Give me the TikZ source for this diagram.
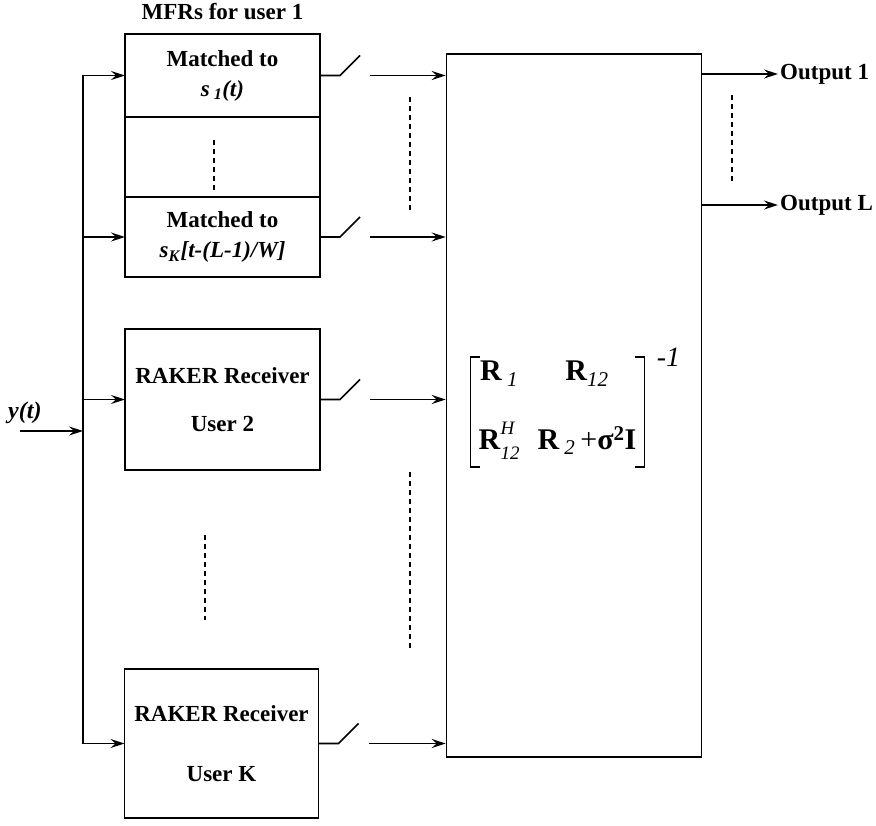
\documentclass[tikz,border=0pt]{standalone}
\usepackage{fontspec}
\setmainfont{Liberation Serif}
\usepackage{amsmath}
\usetikzlibrary{arrows.meta, positioning, calc}

\begin{document}
\begin{tikzpicture}[
  x=1pt, y=-1pt,
  box/.style  = {draw, line width=1.6pt, minimum width=195pt, inner sep=0pt, outer sep=0pt,
                 align=center, font=\fontsize{23}{30}\selectfont\bfseries},
  lbl/.style  = {font=\fontsize{23}{27}\selectfont\bfseries, inner sep=2pt},
  wire/.style = {line width=1.6pt},
  arr/.style  = {-{Stealth[length=14pt, width=9pt, inset=5pt]}, line width=1.6pt},
  dots/.style = {line width=1.7pt, dash pattern=on 5pt off 4pt},
]
\useasboundingbox (0,0) rectangle (876,826);

% ── MFR bank for user 1 ──────────────────────────────────────────────────────
\node[box, minimum height=83pt] (mfr1) at (222.5,75.5)
      {Matched to\\ \textit{s}\,\textsubscript{\textit{1}}\textit{(t)}};
\node[box, minimum height=80pt, below=0pt of mfr1]   (mfrmid) {};
\node[box, minimum height=80pt, below=0pt of mfrmid] (mfrK)
      {Matched to\\ \textit{s}\textsubscript{\textit{K}}\textit{[t-(L-1)/W]}};
\node[lbl, above=12pt of mfr1] (mfrlab) {MFRs for user 1};

% ── RAKE receivers ───────────────────────────────────────────────────────────
\node[box, minimum height=141pt] (rake2) at (222.5,399.5)
      {RAKER Receiver\\[18pt] User 2};
\node[box, minimum height=149pt, minimum width=194pt] (rakeK) at (221.5,743.5)
      {RAKER Receiver\\[30pt] User K};

% ── Decorrelator ─────────────────────────────────────────────────────────────
\node[draw, line width=1.6pt, minimum width=255pt, minimum height=703pt, inner sep=0pt]
      (big) at (574,405.5) {};
\node[font=\fontsize{30}{34}\selectfont, inner xsep=8pt, inner ysep=0pt,
      minimum height=110pt] (mat) at (557.5,412)
      {\begin{tabular}{@{}c@{\hspace{18pt}}c@{}}
        \textbf{R}\,\textsubscript{\textit{1}} & \textbf{R}\textsubscript{\textit{12}}\\[26pt]
        \textbf{R}\raisebox{-10pt}{\fontsize{19}{25}\selectfont\itshape
          \begin{tabular}[b]{@{}l@{}}H\\12\end{tabular}} &
        \textbf{R}\,\textsubscript{\textit{2}}\,+\textbf{σ}\textsuperscript{\textbf{2}}\textbf{I}
       \end{tabular}};
\draw[wire] ([xshift=10pt]mat.north west) -- (mat.north west)
            -- (mat.south west) -- ([xshift=10pt]mat.south west);
\draw[wire] ([xshift=-10pt]mat.north east) -- (mat.north east)
            -- (mat.south east) -- ([xshift=-10pt]mat.south east);
\node[font=\fontsize{28}{32}\selectfont\itshape, anchor=base west, inner sep=0pt]
      (inv) at ([xshift=12pt, yshift=-10pt]mat.north east) {-1};

% ── Input bus ────────────────────────────────────────────────────────────────
\coordinate (bus) at (83,431);
\coordinate (yin) at (20,431);
\node[lbl, font=\fontsize{24}{28}\selectfont\bfseries\itshape, anchor=south west]
      (ylab) at (6,426) {y(t)};
\draw[arr]  (yin) -- (bus);
\draw[wire] (bus |- mfr1.west) -- (bus |- rakeK.west);
\foreach \b in {mfr1, mfrK, rake2, rakeK}
  \draw[arr] (bus |- \b.west) -- (\b.west);

% ── Samplers ─────────────────────────────────────────────────────────────────
\foreach \b in {mfr1, mfrK, rake2, rakeK}{
  \draw[wire] (\b.east) -- ++(20,0) -- ++(20,-20);
  \draw[arr]  ([xshift=50pt]\b.east) -- (big.west |- \b.east);
}

% ── Outputs ──────────────────────────────────────────────────────────────────
\node[lbl, anchor=west] (out1) at (778,74)  {Output 1};
\node[lbl, anchor=west] (outL) at (778,205) {Output L};
\draw[arr] (big.east |- out1.west) -- (out1.west);
\draw[arr] (big.east |- outL.west) -- (outL.west);

% ── Ellipsis marks ───────────────────────────────────────────────────────────
\draw[dots] (214,140) -- (214,190);
\draw[dots] (410,97)  -- (410,213);
\draw[dots] (410,472) -- (410,650);
\draw[dots] (205,535) -- (205,620);
\draw[dots] (732,95)  -- (732,183);

\end{tikzpicture}
\end{document}
